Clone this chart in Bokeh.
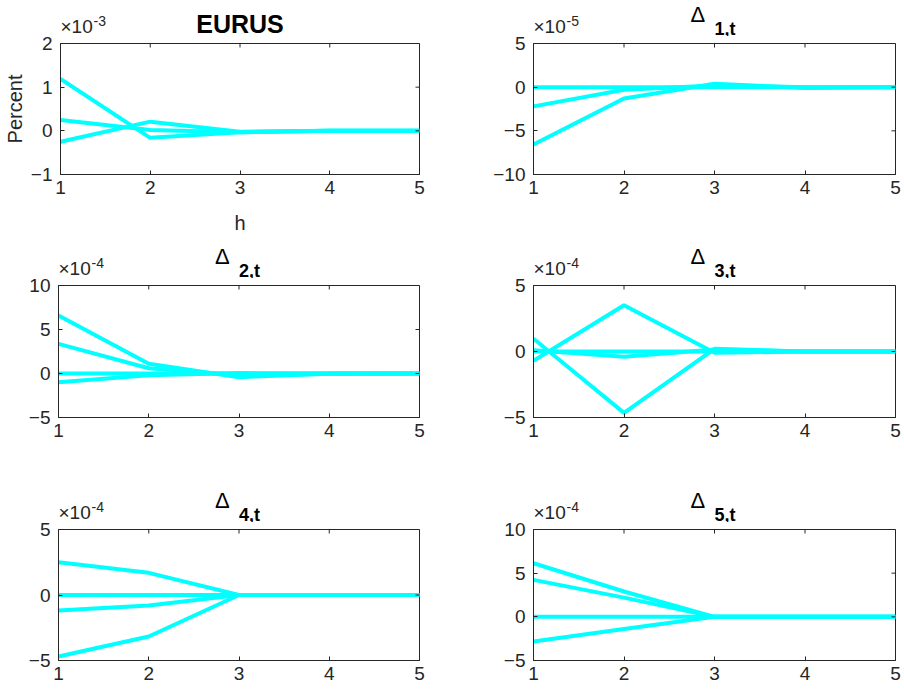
from bokeh.plotting import figure
from bokeh.models import Range1d, FixedTicker, Label
from bokeh.layouts import column, row
from bokeh.embed import file_html
from bokeh.resources import INLINE

# ---------------- data (values in units of 10^exponent) ----------------
h = [1, 2, 3, 4, 5]
x_ticks = [1, 2, 3, 4, 5]

eurus_lines = [
    [1.19, -0.16, -0.03, 0.0, 0.0],
    [0.25, 0.02, -0.03, 0.0, 0.0],
    [-0.25, 0.21, -0.02, 0.0, 0.0],
]
delta1_lines = [
    [0.0, 0.0, 0.0, 0.0, 0.0],
    [-2.2, -0.3, 0.2, 0.0, 0.0],
    [-6.55, -1.3, 0.4, -0.1, 0.0],
]
delta2_lines = [
    [6.6, 1.1, -0.42, -0.02, 0.0],
    [3.37, 0.6, -0.2, 0.0, 0.0],
    [0.0, 0.0, 0.0, 0.0, 0.0],
    [-1.0, -0.2, 0.05, 0.0, 0.0],
]
delta3_lines = [
    [0.97, -4.65, 0.2, 0.0, 0.0],
    [-0.7, 3.5, -0.1, 0.0, 0.0],
    [0.1, -0.4, 0.15, 0.0, 0.0],
    [0.0, 0.0, 0.0, 0.0, 0.0],
]
delta4_lines = [
    [2.5, 1.69, 0.0, 0.0, 0.0],
    [0.0, 0.0, 0.0, 0.0, 0.0],
    [-1.18, -0.8, 0.0, 0.0, 0.0],
    [-4.69, -3.17, 0.0, 0.0, 0.0],
]
delta5_lines = [
    [6.14, 2.9, 0.0, 0.0, 0.0],
    [4.23, 2.2, 0.0, 0.0, 0.0],
    [0.0, 0.0, 0.0, 0.0, 0.0],
    [-2.83, -1.4, 0.0, 0.0, 0.0],
]

panel_lines = [eurus_lines, delta1_lines, delta2_lines, delta3_lines, delta4_lines, delta5_lines]
panel_titles = ["EURUS", "1,t", "2,t", "3,t", "4,t", "5,t"]
panel_exponents = ["-3", "-5", "-4", "-4", "-4", "-4"]
y_limits = [(-1, 2), (-10, 5), (-5, 10), (-5, 5), (-5, 5), (-5, 10)]
y_ticks = [[-1, 0, 1, 2], [-10, -5, 0, 5], [-5, 0, 5, 10], [-5, 0, 5], [-5, 0, 5], [-5, 0, 5, 10]]

# ---------------- layout / style ----------------
FONT = "Liberation Sans"
AX = "#262626"
CYAN = "#00FFFF"
TICK_PX = 4

col_w = [458, 446]
col_border = [(58, 39), (75, 9)]          # left, right border of each column
title_h = [36, 38, 62]                    # title strip above each row's plot
plot_h = [204, 182, 170]
plot_border = [(7, 66), (7, 43), (7, 32)]  # top, bottom border of plot figures


def title_strip(i):
    r, c = divmod(i, 2)
    W, H = col_w[c], title_h[r]
    bl, br = col_border[c]
    t = figure(width=W, height=H, output_backend="svg", toolbar_location=None, title=None,
               x_range=Range1d(1, 5), y_range=Range1d(0, H),
               x_axis_type=None, y_axis_type=None,
               min_border_left=bl, min_border_right=br, min_border_top=0, min_border_bottom=0,
               background_fill_color="white", border_fill_color="white")
    t.outline_line_color = None
    t.xgrid.visible = False
    t.ygrid.visible = False
    gap = plot_border[r][0]  # distance from strip bottom to plot frame top

    def ypos(px_above_frame, fs):
        # label anchor sits about a third of the font size above the baseline
        return px_above_frame - gap + 0.33 * fs

    if i == 0:
        t.add_layout(Label(x=3, y=ypos(11, 25), text=panel_titles[i], text_font=FONT,
                           text_font_size="25px", text_font_style="bold", text_align="center",
                           text_baseline="alphabetic", text_color="black"))
    else:
        t.add_layout(Label(x=3, y=ypos(22, 22), x_offset=-24, text="\u0394", text_font=FONT,
                           text_font_size="22px", text_align="left",
                           text_baseline="alphabetic", text_color="black"))
        t.add_layout(Label(x=3, y=ypos(9, 18), x_offset=0, text=panel_titles[i], text_font=FONT,
                           text_font_size="18px", text_font_style="bold", text_align="left",
                           text_baseline="alphabetic", text_color="black"))
    t.add_layout(Label(x=1, y=ypos(11, 19), x_offset=0, text="\u00d710", text_font=FONT,
                       text_font_size="19px", text_align="left", text_baseline="alphabetic",
                       text_color=AX))
    t.add_layout(Label(x=1, y=ypos(18, 14), x_offset=33, text=panel_exponents[i], text_font=FONT,
                       text_font_size="14px", text_align="left", text_baseline="alphabetic",
                       text_color=AX))
    return t


def plot_panel(i):
    r, c = divmod(i, 2)
    lo, hi = y_limits[i]
    bl, br = col_border[c]
    bt, bb = plot_border[r]
    W, H = col_w[c], plot_h[r]
    fw = W - bl - br
    fh = H - bt - bb
    p = figure(width=W, height=H, output_backend="svg", toolbar_location=None, title=None,
               x_range=Range1d(1, 5), y_range=Range1d(lo, hi),
               min_border_left=bl, min_border_right=br, min_border_top=bt, min_border_bottom=bb,
               background_fill_color="white", border_fill_color="white")
    p.xgrid.visible = False
    p.ygrid.visible = False
    p.outline_line_color = AX
    p.outline_line_width = 1

    xa, ya = p.xaxis[0], p.yaxis[0]
    for ax, tk in ((xa, x_ticks), (ya, y_ticks[i])):
        ax.ticker = FixedTicker(ticks=tk)
        ax.major_tick_in = TICK_PX
        ax.major_tick_out = 0
        ax.minor_tick_line_color = None
        ax.axis_line_color = AX
        ax.major_tick_line_color = AX
        ax.major_label_text_color = AX
        ax.major_label_text_font = FONT
        ax.major_label_text_font_size = "19px"
    xa.major_label_standoff = 6
    ya.major_label_standoff = 8

    if i == 0:
        ya.axis_label = "Percent"
        xa.axis_label = "h"
        for ax in (xa, ya):
            ax.axis_label_text_font = FONT
            ax.axis_label_text_font_size = "20px"
            ax.axis_label_text_font_style = "normal"
            ax.axis_label_text_color = AX
        ya.axis_label_standoff = 2
        xa.axis_label_standoff = 15

    for ys in panel_lines[i]:
        p.line(h, ys, line_color=CYAN, line_width=4)

    # inward ticks on top and right edges of the box (MATLAB style)
    dy = TICK_PX * (hi - lo) / fh
    dx = TICK_PX * (5 - 1) / fw
    p.segment(x0=x_ticks, y0=[hi] * len(x_ticks), x1=x_ticks, y1=[hi - dy] * len(x_ticks),
              line_color=AX, line_width=1)
    yt = y_ticks[i]
    p.segment(x0=[5] * len(yt), y0=yt, x1=[5 - dx] * len(yt), y1=yt,
              line_color=AX, line_width=1)
    return p


cols_rows = []
for r in range(3):
    cells = []
    for c in range(2):
        i = 2 * r + c
        cells.append(column(title_strip(i), plot_panel(i)))
    cols_rows.append(row(*cells))
layout = column(*cols_rows)

with open("out.html", "w") as f:
    f.write(file_html(layout, INLINE))
